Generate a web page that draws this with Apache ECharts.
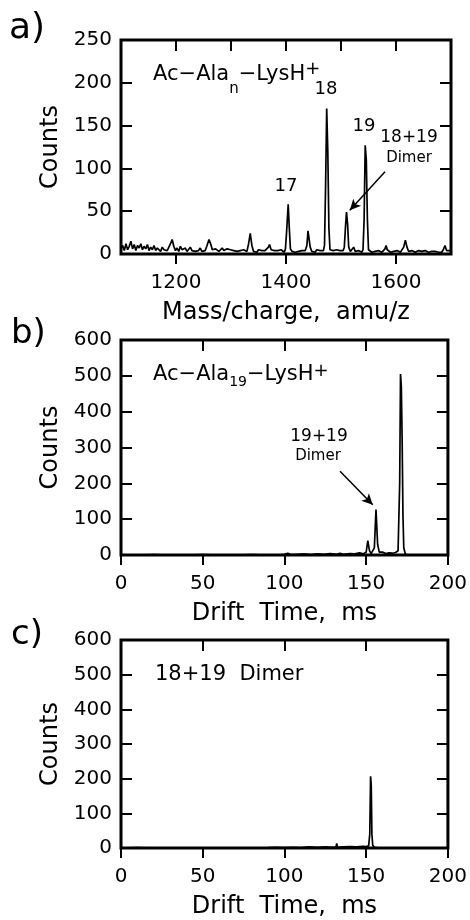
<!DOCTYPE html>
<html><head><meta charset="utf-8">
<script src="https://cdn.jsdelivr.net/npm/echarts@6/dist/echarts.min.js"></script>
<style>html,body{margin:0;padding:0;background:#fff}#c{width:470px;height:920px}</style>
</head><body><div id="c"></div>
<script>
// ---- Panel a: mass spectrum [m/z, counts]
const massSpecA = [
 [1100,6],[1103,10],[1106,4],[1109,12],[1112,5],[1115,9],[1118,15],[1121,6],[1124,11],[1127,4],
 [1130,10],[1133,7],[1136,12],[1139,5],[1142,9],[1145,6],[1148,11],[1151,4],[1154,8],[1157,5],
 [1160,10],[1163,4],[1166,7],[1169,9],[1172,3],[1175,8],[1178,5],[1181,7],[1184,4],[1187,6],
 [1190,12],[1193,17],[1196,9],[1199,4],[1202,7],[1205,3],[1208,9],[1211,5],[1214,4],[1217,7],
 [1220,3],[1223,5],[1226,8],[1229,4],[1232,6],[1235,3],[1238,5],[1241,4],[1244,7],[1247,3],
 [1250,5],[1253,4],[1256,9],[1260,17],[1263,12],[1266,5],[1269,3],[1272,6],[1275,4],[1278,3],
 [1281,5],[1284,7],[1287,4],[1290,3],[1293,6],[1296,4],[1299,5],[1302,3],[1305,4],[1308,6],
 [1311,3],[1314,5],[1317,4],[1320,3],[1323,5],[1326,4],[1329,3],[1332,12],[1335,24],[1338,10],
 [1341,3],[1344,4],[1347,2],[1350,5],[1353,3],[1356,4],[1359,2],[1362,4],[1365,3],[1368,8],
 [1370,11],[1373,5],[1376,3],[1379,4],[1382,2],[1385,4],[1388,3],[1391,5],[1394,3],[1397,2],
 [1399,6],[1401,25],[1404,58],[1406,30],[1408,6],[1411,3],[1414,4],[1417,2],[1420,4],[1423,3],
 [1426,2],[1429,4],[1432,3],[1435,4],[1438,10],[1440,27],[1442,25],[1444,8],[1447,3],[1450,4],
 [1453,2],[1456,5],[1459,3],[1462,4],[1465,2],[1468,4],[1470,10],[1472,80],[1474,170],[1476,120],
 [1478,30],[1480,5],[1483,3],[1486,4],[1489,2],[1492,5],[1495,3],[1498,4],[1501,2],[1504,4],
 [1506,8],[1508,30],[1510,49],[1512,35],[1514,8],[1517,3],[1520,4],[1523,8],[1526,3],[1529,2],
 [1532,4],[1535,3],[1538,2],[1540,5],[1542,40],[1544,127],[1546,110],[1548,40],[1550,5],[1553,3],
 [1556,2],[1559,4],[1562,3],[1565,2],[1568,4],[1571,3],[1574,2],[1577,4],[1580,6],[1582,10],
 [1584,5],[1587,3],[1590,2],[1593,4],[1596,3],[1599,2],[1602,4],[1605,3],[1608,2],[1611,4],
 [1614,8],[1617,16],[1620,8],[1623,3],[1626,2],[1629,4],[1632,3],[1635,2],[1638,3],[1641,4],
 [1644,2],[1647,3],[1650,2],[1653,4],[1656,3],[1659,2],[1662,4],[1665,3],[1668,2],[1671,3],
 [1674,4],[1677,2],[1680,3],[1683,2],[1686,5],[1689,10],[1692,4],[1695,3],[1698,4],[1700,5]
];
// ---- Panel b: arrival time distribution [ms, counts]
const driftB = [
 [0,0],[10,0],[20,1],[30,0],[40,0],[50,1],[60,0],[70,0],[80,1],[90,0],[98,1],[100,2],[102,5],
 [104,1],[108,2],[112,3],[116,1],[120,3],[124,2],[128,4],[132,2],[134,5],[136,2],[140,4],[143,3],
 [146,6],[148,3],[150,8],[151,40],[152,12],[153,4],[154,6],[155,20],[156,127],[157,30],[158,8],
 [159,5],[160,8],[162,4],[164,6],[166,5],[168,7],[169.5,12],[170.5,200],[171,505],[171.5,470],
 [172,320],[172.5,110],[173,20],[174,2],[176,0],[180,0],[190,0],[200,0]
];
// ---- Panel c: arrival time distribution [ms, counts]
const driftC = [
 [0,0],[10,1],[20,0],[40,0],[60,0],[67,0],[68,3],[69,0],[80,0],[90,1],[95,2],[100,1],[105,2],
 [110,1],[115,3],[120,2],[125,3],[130,2],[131.5,3],[132,13],[132.5,2],[136,3],[140,4],[144,3],
 [148,5],[150,4],[151.5,6],[152.2,40],[152.7,207],[153.1,180],[153.5,40],[154,8],[155,2],[158,0],[200,0]
];
// tick labels
const xLabelsA = [1200, 1400, 1600];
const arrowA = [[1580, 96], [1516, 51]];
const arrowB = [[134, 234], [154, 140]];

const FF = 'DejaVu Sans';
const chart = echarts.init(document.getElementById('c'), null, {renderer: 'canvas'});

const grids = [
  {left: 121, top: 40, width: 330, height: 214},
  {left: 121, top: 340, width: 330, height: 215},
  {left: 121, top: 640, width: 330, height: 213}
].map(g => Object.assign({show: true, borderColor: '#000', borderWidth: 3, backgroundColor: 'transparent'}, g));

const tickStyle = {color: '#000', width: 2};
const lblStyle = {color: '#000', fontFamily: FF, fontSize: 20, formatter: v => String(v)};
const nameStyle = {color: '#000', fontFamily: FF, fontSize: 24};
const noLine = {show: false, onZero: false};

function xAxes(gi, min, max, interval, customVals, name) {
  const bottom = {
    gridIndex: gi, type: 'value', position: 'bottom', min, max, interval,
    axisLine: noLine, splitLine: {show: false},
    axisTick: {show: true, inside: false, length: 10, lineStyle: tickStyle},
    axisLabel: Object.assign({margin: 19, showMinLabel: true, showMaxLabel: true}, lblStyle),
    name, nameLocation: 'middle', nameGap: 47, nameTextStyle: nameStyle
  };
  if (customVals) {
    bottom.axisLabel.customValues = customVals;
    bottom.axisTick.customValues = customVals;
  }
  const top = {
    gridIndex: gi, type: 'value', position: 'top', min, max, interval,
    axisLine: noLine, splitLine: {show: false}, axisLabel: {show: false},
    axisTick: {show: true, inside: true, length: 11, lineStyle: tickStyle}
  };
  return [bottom, top];
}
function yAxes(gi, max, interval) {
  return [{
    gridIndex: gi, type: 'value', position: 'left', min: 0, max, interval,
    axisLine: noLine, splitLine: {show: false},
    axisTick: {show: true, inside: true, length: 11, lineStyle: tickStyle},
    axisLabel: Object.assign({margin: 9}, lblStyle),
    name: 'Counts', nameLocation: 'middle', nameGap: 56, nameRotate: 90, nameTextStyle: nameStyle
  }, {
    gridIndex: gi, type: 'value', position: 'right', min: 0, max, interval,
    axisLine: noLine, splitLine: {show: false}, axisLabel: {show: false},
    axisTick: {show: true, inside: true, length: 11, lineStyle: tickStyle}
  }];
}

const xAxis = [
  ...xAxes(0, 1100, 1700, 100, xLabelsA, 'Mass/charge,  amu/z'),
  ...xAxes(1, 0, 200, 50, null, 'Drift  Time,  ms'),
  ...xAxes(2, 0, 200, 50, null, 'Drift  Time,  ms')
];
const yAxis = [...yAxes(0, 250, 50), ...yAxes(1, 600, 100), ...yAxes(2, 600, 100)];

function arrowLine(pts) {
  return {
    silent: true, symbol: ['none', 'arrow'], symbolSize: [8, 11],
    lineStyle: {color: '#000', width: 1.5, type: 'solid'},
    label: {show: false},
    data: [[{coord: pts[0]}, {coord: pts[1]}]]
  };
}
const lineStyle = {color: '#000', width: 1.7};
const series = [
  {type: 'line', xAxisIndex: 0, yAxisIndex: 0, data: massSpecA, showSymbol: false, symbol: 'none',
   lineStyle, markLine: arrowLine(arrowA)},
  {type: 'line', xAxisIndex: 2, yAxisIndex: 2, data: driftB, showSymbol: false, symbol: 'none',
   lineStyle, markLine: arrowLine(arrowB)},
  {type: 'line', xAxisIndex: 4, yAxisIndex: 4, data: driftC, showSymbol: false, symbol: 'none', lineStyle}
];

function txt(x, y, text, size, align) {
  return {type: 'text', x, y, silent: true, style: {
    text, fill: '#000', fontFamily: FF, fontSize: size,
    align: align || 'center', verticalAlign: 'middle'}};
}
function richTxt(x, y, text, rich) {
  return {type: 'text', x, y, silent: true, style: {
    text, fill: '#000', fontFamily: FF, fontSize: 21, align: 'left', verticalAlign: 'middle', rich}};
}
const mainR = {fontSize: 21, fontFamily: FF};
const graphic = [
  txt(9, 29, 'a)', 36, 'left'),
  txt(11, 334, 'b)', 34, 'left'),
  txt(11, 635, 'c)', 34, 'left'),
  richTxt(153, 74.5, '{m|Ac−Ala}{s|n}{m|−LysH}{p|+}', {
    m: mainR,
    s: {fontSize: 15, fontFamily: FF, padding: [30, 0, 0, 0]},
    p: {fontSize: 18, fontFamily: FF, padding: [0, 0, 11, 0]}
  }),
  txt(326, 89, '18', 18),
  txt(286, 186, '17', 18),
  txt(364, 126, '19', 18),
  txt(409, 138, '18+19', 17),
  txt(409, 158, 'Dimer', 15),
  richTxt(153, 375, '{m|Ac−Ala}{s|19}{m|−LysH}{p|+}', {
    m: mainR,
    s: {fontSize: 14, fontFamily: FF, padding: [14, 0, 0, 0]},
    p: {fontSize: 18, fontFamily: FF, padding: [0, 0, 8, 0]}
  }),
  txt(319, 437, '19+19', 17),
  txt(318, 456, 'Dimer', 15),
  txt(155, 675, '18+19  Dimer', 21, 'left')
];

chart.setOption({
  animation: false,
  backgroundColor: '#fff',
  grid: grids,
  xAxis, yAxis, series, graphic
});
</script></body></html>
